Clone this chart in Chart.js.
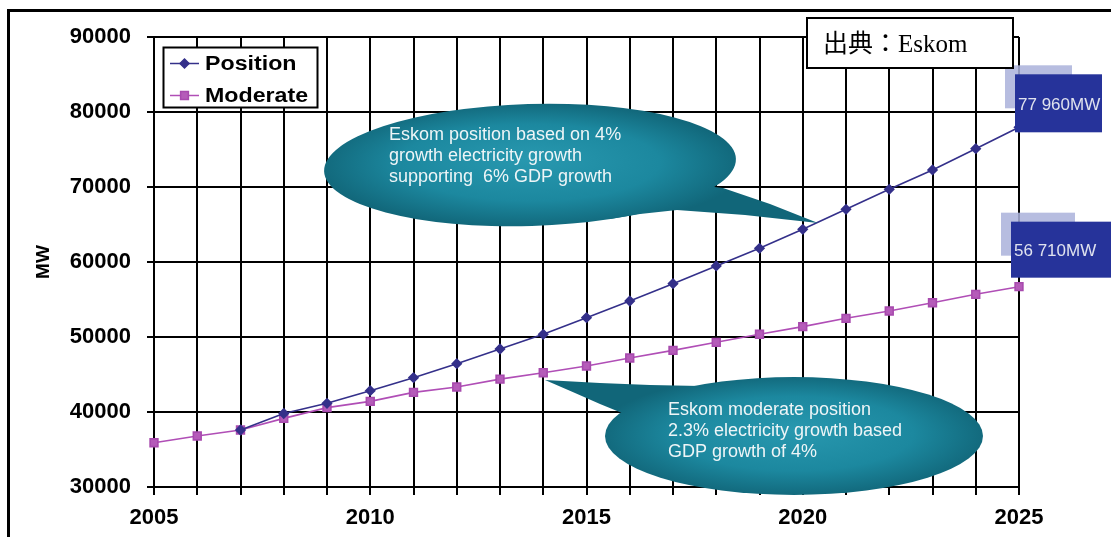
<!DOCTYPE html>
<html>
<head>
<meta charset="utf-8">
<script src="https://cdn.jsdelivr.net/npm/chart.js@4.4.1/dist/chart.umd.min.js"></script>
<style>
  html, body { margin: 0; padding: 0; background: #fff; }
</style>
</head>
<body>
<canvas id="eskomChart" width="1111" height="537"></canvas>
<script>
// Peak demand forecast (MW)
const years = [2005, 2006, 2007, 2008, 2009, 2010, 2011, 2012, 2013, 2014, 2015,
               2016, 2017, 2018, 2019, 2020, 2021, 2022, 2023, 2024, 2025];
const position = [null, null, 37600, 39800, 41160, 42840, 44580, 46440, 48400, 50360, 52580,
                  54800, 57110, 59470, 61830, 64360, 67030, 69690, 72270, 75110, 77960];
const moderate = [35900, 36800, 37600, 39150, 40580, 41420, 42620, 43330, 44380, 45240, 46130,
                  47200, 48220, 49290, 50360, 51380, 52490, 53470, 54570, 55690, 56710];
const labelYears = [2005, 2010, 2015, 2020, 2025];
const yMin = 30000, yMax = 90000, yStep = 10000;

const positionNote = ['Eskom position based on 4%', 'growth electricity growth', 'supporting  6% GDP growth'];
const moderateNote = ['Eskom moderate position', '2.3% electricity growth based', 'GDP growth of 4%'];
const sourceText = '出典：Eskom';

const SANS = '"Liberation Sans", Arial, sans-serif';

// "77 960MW"
const mwLabel = v => String(v).replace(/\B(?=(\d{3})+(?!\d))/g, ' ') + 'MW';

function bubble(ctx, b) {
  // gradient lives in a squashed space so it follows the ellipse
  const paint = () => {
    ctx.save();
    ctx.translate(b.cx, b.cy);
    ctx.scale(1, b.ry / b.rx);
    const g = ctx.createRadialGradient(0, -b.rx * 0.1, 0, 0, 0, b.rx * 1.05);
    g.addColorStop(0, '#2898af');
    g.addColorStop(0.6, '#1c889f');
    g.addColorStop(1, '#116679');
    ctx.fillStyle = g;
    ctx.fill();
    ctx.restore();
  };

  ctx.beginPath();
  ctx.ellipse(b.cx, b.cy, b.rx, b.ry, b.rot || 0, 0, Math.PI * 2);
  paint();

  ctx.beginPath();
  ctx.moveTo(b.cx, b.cy);
  b.tail.forEach(p => ctx.lineTo(p[0], p[1]));
  ctx.closePath();
  paint();

  ctx.fillStyle = '#eef5f7';
  ctx.font = '18px ' + SANS;
  ctx.textAlign = 'left';
  ctx.textBaseline = 'middle';
  b.lines.forEach((s, i) => ctx.fillText(s, b.tx, b.ty + i * 21));
}

const decorations = {
  id: 'decorations',
  afterDatasetsDraw(chart) {
    const ctx = chart.ctx;
    ctx.save();

    // callouts
    bubble(ctx, {
      cx: 530, cy: 165, rx: 206, ry: 61, rot: -0.03,
      tail: [[723, 188], [770, 204], [818, 223], [745, 215], [677, 210], [640, 214], [610, 219]],
      lines: positionNote, tx: 389, ty: 135
    });
    bubble(ctx, {
      cx: 794, cy: 436, rx: 189, ry: 59,
      tail: [[700, 386], [650, 385], [600, 383], [545, 380], [575, 393], [600, 404], [622, 413]],
      lines: moderateNote, tx: 668, ty: 410
    });

    // end-of-line value boxes
    const ends = [
      { ds: 0, dx: -4, dy: -53, w: 87, h: 58, sw: 67, sh: 43 },
      { ds: 1, dx: -8, dy: -65, w: 100, h: 56, sw: 74, sh: 43 }
    ];
    ends.forEach(e => {
      const data = chart.data.datasets[e.ds].data;
      const pt = chart.getDatasetMeta(e.ds).data[data.length - 1];
      const x = pt.x + e.dx, y = pt.y + e.dy;
      ctx.fillStyle = 'rgba(170,178,218,0.85)';
      ctx.fillRect(x - 10, y - 9, e.sw, e.sh);
      ctx.fillStyle = '#26339a';
      ctx.fillRect(x, y, e.w, e.h);
      ctx.fillStyle = '#dfe2ee';
      ctx.font = '17px ' + SANS;
      ctx.textAlign = 'left';
      ctx.textBaseline = 'middle';
      ctx.fillText(mwLabel(data[data.length - 1]), x + 3, y + e.h / 2 + 2);
    });

    // legend
    ctx.fillStyle = '#fff';
    ctx.fillRect(163, 47, 155, 61);
    ctx.strokeStyle = '#000';
    ctx.lineWidth = 2;
    ctx.strokeRect(163.5, 47.5, 154, 60);
    chart.data.datasets.forEach((ds, i) => {
      const y = 63.5 + i * 32;
      ctx.strokeStyle = ds.borderColor;
      ctx.lineWidth = 1.5;
      ctx.beginPath();
      ctx.moveTo(170, y);
      ctx.lineTo(199, y);
      ctx.stroke();
      ctx.fillStyle = ds.pointBackgroundColor;
      ctx.strokeStyle = ds.pointBorderColor;
      Chart.helpers.drawPoint(ctx, {
        pointStyle: ds.pointStyle, radius: ds.pointRadius, borderWidth: 1
      }, 184.5, y);
      ctx.save();
      ctx.translate(205, y + 1);
      ctx.scale(1.16, 1);
      ctx.fillStyle = '#000';
      ctx.font = 'bold 20px ' + SANS;
      ctx.textAlign = 'left';
      ctx.textBaseline = 'middle';
      ctx.fillText(ds.label, 0, 0);
      ctx.restore();
    });

    // source box
    ctx.fillStyle = '#fff';
    ctx.fillRect(806, 17, 208, 52);
    ctx.strokeStyle = '#000';
    ctx.lineWidth = 2;
    ctx.strokeRect(807, 18, 206, 50);
    ctx.fillStyle = '#000';
    ctx.font = '25px "Liberation Serif", "Noto Sans CJK JP", serif';
    ctx.textAlign = 'left';
    ctx.textBaseline = 'middle';
    ctx.fillText(sourceText, 823, 45);

    // outer frame
    ctx.strokeStyle = '#000';
    ctx.lineWidth = 3;
    ctx.beginPath();
    ctx.moveTo(8.5, 537);
    ctx.lineTo(8.5, 10.5);
    ctx.lineTo(1111, 10.5);
    ctx.stroke();

    ctx.restore();
  }
};

const gridStyle = { color: '#000', lineWidth: 2, tickLength: 7, tickColor: '#000' };

new Chart(document.getElementById('eskomChart'), {
  type: 'line',
  data: {
    labels: years,
    datasets: [
      {
        label: 'Position',
        data: position,
        borderColor: '#34308a',
        backgroundColor: '#34308a',
        pointBackgroundColor: '#34308a',
        pointBorderColor: '#34308a',
        pointStyle: 'rectRot',
        pointRadius: 4.5,
        borderWidth: 1.6,
        tension: 0
      },
      {
        label: 'Moderate',
        data: moderate,
        borderColor: '#b04eb6',
        backgroundColor: '#b55cb9',
        pointBackgroundColor: '#b55cb9',
        pointBorderColor: '#a84aae',
        pointStyle: 'rect',
        pointRadius: 5.5,
        borderWidth: 1.6,
        tension: 0
      }
    ]
  },
  options: {
    responsive: false,
    animation: false,
    devicePixelRatio: 1,
    layout: { padding: { top: 37, right: 92, left: 0, bottom: 0 } },
    plugins: { legend: { display: false }, tooltip: { enabled: false } },
    scales: {
      x: {
        type: 'category',
        offset: false,
        grid: { ...gridStyle, tickLength: 8 },
        border: { color: '#000', width: 2 },
        ticks: {
          autoSkip: false,
          maxRotation: 0,
          padding: 10,
          color: '#000',
          font: { family: SANS, size: 22, weight: 'bold' },
          callback: (v, i) => labelYears.includes(years[i]) ? String(years[i]) : ''
        },
        afterFit: s => { s.height = 50; }
      },
      y: {
        min: yMin,
        max: yMax,
        grid: gridStyle,
        border: { color: '#000', width: 2 },
        ticks: {
          stepSize: yStep,
          padding: 16,
          color: '#000',
          font: { family: SANS, size: 22, weight: 'bold' },
          callback: v => String(v)
        },
        title: {
          display: true,
          text: 'MW',
          color: '#000',
          font: { family: SANS, size: 19, weight: 'bold' },
          padding: { top: 32, bottom: 0 }
        },
        afterFit: s => { s.width = 154; }
      }
    }
  },
  plugins: [decorations]
});
</script>
</body>
</html>
